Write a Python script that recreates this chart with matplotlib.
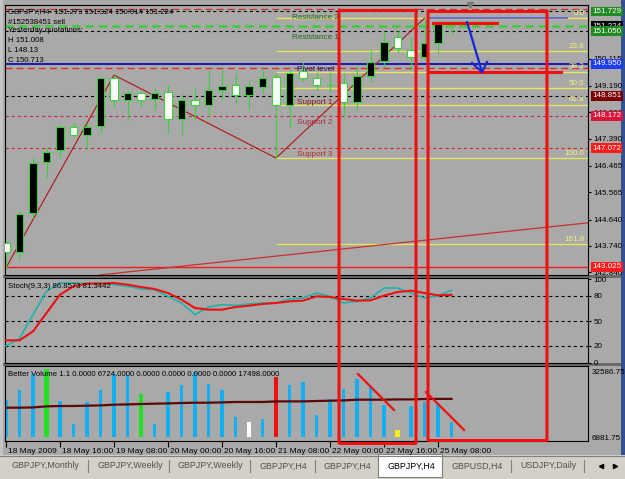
import numpy as np
import matplotlib
matplotlib.use('Agg')
import matplotlib.pyplot as plt
from matplotlib.patches import Rectangle, ConnectionPatch
from matplotlib.transforms import ScaledTranslation, blended_transform_factory

plt.rcParams['font.family'] = ['Liberation Sans', 'DejaVu Sans']
plt.rcParams['lines.scale_dashes'] = False

# ========== 数据 ==========
opens = [143.842, 143.536, 144.854, 146.611, 147.010, 147.804, 147.521, 147.838, 149.452, 148.713,
         148.941, 148.737, 148.975, 148.066, 148.713, 148.543, 149.053, 149.224, 148.883, 149.166,
         149.486, 148.543, 149.711, 149.452, 149.214, 149.282, 148.655, 149.530, 150.052, 150.848,
         150.416, 150.188, 150.644, 151.273]
highs = [143.940, 144.932, 146.782, 147.112, 147.861, 147.930, 147.920, 149.506, 149.565, 149.030,
         149.030, 149.122, 149.224, 148.941, 149.112, 149.735, 149.793, 149.622, 149.394, 149.793,
         149.622, 149.735, 150.017, 149.677, 149.622, 149.622, 149.905, 150.416, 151.039, 151.097,
         150.869, 151.500, 151.438, 151.324]
lows = [143.000, 143.263, 144.694, 146.056, 146.782, 147.453, 147.034, 147.589, 148.485, 148.032,
        148.485, 148.372, 147.579, 147.521, 148.032, 148.144, 148.713, 148.601, 148.372, 148.941,
        146.737, 147.804, 149.336, 149.053, 148.996, 148.144, 148.372, 149.336, 149.847, 150.303,
        149.735, 150.075, 150.303, 150.914]
closes = [143.536, 144.830, 146.577, 146.952, 147.783, 147.521, 147.804, 149.452, 148.713, 148.941,
          148.713, 148.962, 148.066, 148.713, 148.543, 149.053, 149.190, 148.883, 149.190, 149.452,
          148.543, 149.643, 149.462, 149.224, 149.234, 148.655, 149.530, 150.017, 150.699, 150.474,
          150.188, 150.644, 151.302, 151.224]
bars = np.arange(len(opens))

stoch_k = [20, 29, 57.6, 85.6, 95.6, 95.6, 94.8, 95.6, 93.6, 91.6, 88.4, 87.6, 79.6, 71.6, 57.6,
           66.8, 69.6, 68.8, 70.4, 71.6, 71.6, 76.4, 77.6, 83.6, 79.6, 71.6, 73.6, 77.6, 89.6, 89.6,
           83.6, 77.6, 80.4, 86.86]
stoch_d = [26.8, 26.8, 37.6, 59.6, 81.6, 91.6, 94.8, 94.8, 95.6, 93.6, 90.8, 88.4, 83.6, 75.6, 65.6,
           63.6, 63.6, 66.8, 68.4, 70.4, 71.6, 73.6, 74.4, 79.6, 78.8, 76.4, 74.4, 74.8, 80.4, 84.8,
           86.4, 83.6, 80.8, 81.34]
stoch_levels = [20, 50, 80]
stoch_ticks = [100, 80, 50, 20, 0]

volumes = [16840, 21570, 28920, 31000, 16520, 5970, 16070, 21570, 28920, 28460,
           19740, 5970, 20650, 23870, 29840, 24330, 21570, 9180, 6890, 8260,
           27540, 23870, 25250, 10100, 17440, 22030, 26620, 22950, 14690, 3210,
           14230, 16070, 15150, 6724]
vol_ma = [13450, 13450, 13590, 14050, 14230, 14230, 14370, 14500, 14830, 14960,
          15150, 15280, 15420, 15610, 15740, 15740, 15880, 16070, 16070, 16070,
          16340, 16340, 16340, 16520, 16660, 16800, 17120, 17120, 17120, 17260,
          17260, 17440, 17498, 17498]
vol_kind = ['n', 'n', 'n', 'g', 'n', 'n', 'n', 'n', 'n', 'n',
            'g', 'n', 'n', 'n', 'n', 'n', 'n', 'n', 'w', 'n',
            'r', 'n', 'n', 'n', 'n', 'n', 'n', 'n', 'n', 'y',
            'n', 'n', 'n', 'n']

date_bars = [0, 4, 8, 12, 16, 20, 24, 28, 32]
date_labels = ['18 May 2009', '18 May 16:00', '19 May 08:00', '20 May 00:00', '20 May 16:00',
               '21 May 08:00', '22 May 00:00', '22 May 16:00', '25 May 08:00']

price_ticks = [150.115, 149.190, 148.290, 147.390, 146.465, 145.565, 144.640, 143.740, 142.840]

pivot_names = ['Resistance 2', 'Resistance 1', 'Pivot level', 'Support 1', 'Support 2', 'Support 3']
pivot_prices = [151.729, 151.050, 149.950, 148.851, 148.172, 147.072]
pivot_line_col = ['black', 'black', '#0000b4', 'black', '#c8264a', '#d82020']
pivot_text_col = ['#1f6a1f', '#1f6a1f', '#12127e', '#8b1a1a', '#b4283c', '#c42828']
pivot_box_col = ['#1f8a1f', '#1f8a1f', '#1e3cff', '#7b0000', '#dc143c', '#ff1a1a']

red_dash_prices = [151.812, 149.803]
order_price = 151.224
bid_price = 151.224
low_line_price = 143.025

fib_labels = ['0.0', '23.6', '38.2', '50.0', '61.8', '100.0', '161.8']
fib_prices = [151.500, 150.376, 149.681, 149.119, 148.557, 146.737, 143.794]
fib_start = 20

zigzag_bars = [0, 8, 20, 31]
zigzag_prices = [143.000, 149.565, 146.737, 151.500]
trend_a = (20.3, 143.41)
trend_b = (43.1, 144.53)
swing_line = ([31.2, 41.6], 151.500)

# 手绘标注 (bar, price / volume)
rects = [(24.67, 30.37, 151.78, -2750), (31.26, 40.07, 151.76, -1380)]
red_hlines = [(31.63, 36.37, 151.335), (31.26, 41.11, 149.667)]
arrow_shaft = ([34.15, 35.26], [151.37, 149.667])
arrow_head = ([34.52, 35.26, 35.63], [149.973, 149.667, 150.007])
vol_slashes = [([26.07, 28.74], [28900, 12400]), ([31.11, 33.93], [20650, 3210])]

tab_labels = ['GBPJPY,Monthly', 'GBPJPY,Weekly', 'GBPJPY,Weekly', 'GBPJPY,H4', 'GBPJPY,H4',
              'GBPJPY,H4', 'GBPUSD,H4', 'USDJPY,Daily']
active_tab = 5

# ========== 画布 ==========
W, H = 625, 479
BG = '#a9a9a9'
WICK = '#3ad23a'
fig = plt.figure(figsize=(W / 100, H / 100), dpi=100, facecolor=BG)


def box(x0, y0, x1, y1):
    return [x0 / W, 1 - y1 / H, (x1 - x0) / W, (y1 - y0) / H]


ov = fig.add_axes([0, 0, 1, 1], zorder=-1)
ov.set_xlim(0, W); ov.set_ylim(H, 0); ov.axis('off')

ax = fig.add_axes(box(5, 5, 588, 275))
ax_s = fig.add_axes(box(5, 278, 588, 363), sharex=ax)
ax_v = fig.add_axes(box(5, 366, 588, 441), sharex=ax)
X0, X1 = -0.074, 43.11
for a in (ax, ax_s, ax_v):
    a.set_facecolor(BG)
    for s in a.spines.values():
        s.set_color('black'); s.set_linewidth(0.8)
    a.yaxis.tick_right()
    a.tick_params(axis='y', labelsize=5.8, length=2, pad=2, colors='black')
    a.tick_params(axis='x', bottom=False, labelbottom=False)
ax.set_xlim(X0, X1)

# ---- 主图 ----
ax.set_ylim(142.752, 151.949)
ax.set_yticks(price_ticks)
ax.set_yticklabels([f'{p:.3f}' for p in price_ticks])

for p in red_dash_prices:
    ax.axhline(p, color='#e02828', lw=0.9, ls=(0, (5, 3)), zorder=1)
ax.axhline(order_price, color='#3ccc3c', lw=1.8, ls=(0, (6, 3.6)), zorder=1)
for p, lc in zip(pivot_prices, pivot_line_col):
    if lc == '#0000b4':
        ax.axhline(p, color=lc, lw=1.2, zorder=1)
    else:
        ax.axhline(p, color=lc, lw=0.8, ls=(0, (2.2, 2.2)), zorder=1)
ax.axhline(low_line_price, color='#ee1c1c', lw=1.0, zorder=1)

for lab, p in zip(fib_labels, fib_prices):
    ax.hlines(p, fib_start, X1, color='#e6e65e', lw=1.0, zorder=1)
    ax.annotate(lab, (42.85, p), xytext=(0, 3.6), textcoords='offset points',
                ha='right', va='center', fontsize=5.8, color='#f2f27a', zorder=2)
ax.hlines(swing_line[1], swing_line[0][0], swing_line[0][1], color='#5a5ae0', lw=1.2, zorder=2)

ax.plot(zigzag_bars, zigzag_prices, color='#b01414', lw=0.8, zorder=2)
ax.axline(trend_a, trend_b, color='#c83030', lw=0.9, zorder=2)

for name, p, tc in zip(pivot_names, pivot_prices, pivot_text_col):
    ax.annotate(name, (22.9, p), xytext=(0, -4.5), textcoords='offset points',
                ha='center', va='center', fontsize=5.9, color=tc, zorder=5)

for i in bars:
    o, c = opens[i], closes[i]
    ax.vlines(i, lows[i], highs[i], color=WICK, lw=0.8, zorder=3)
    fc = 'black' if c >= o else 'white'
    ax.add_patch(Rectangle((i - 0.28, min(o, c)), 0.56, max(abs(c - o), 0.015),
                           fc=fc, ec=WICK, lw=0.8, zorder=4))

# 价格标签框
bt = blended_transform_factory(ax.transAxes, ax.transData)
boxes = [(bid_price, 'black')] + list(zip(pivot_prices, pivot_box_col)) + [(low_line_price, '#ff1a1a')]
for p, col in boxes:
    ax.text(1.007, p, f'{p:.3f}', transform=bt, fontsize=5.8, color='white', ha='left', va='center',
            bbox=dict(boxstyle='square,pad=0.18', fc=col, ec='none'), clip_on=False, zorder=6)
ax.plot([34.4], [1.0], marker='v', ms=4, color='#7a7a7a',
        transform=blended_transform_factory(ax.transData, ax.transAxes), clip_on=False, zorder=6)

# ---- Stoch ----
ax_s.set_ylim(-0.4, 101.6)
ax_s.set_yticks(stoch_ticks)
for lv in stoch_levels:
    ax_s.axhline(lv, color='black', lw=0.8, ls=(0, (2.2, 2.2)), zorder=1)
ax_s.plot(bars, stoch_k, color='#20b2aa', lw=1.2, zorder=3)
ax_s.plot(bars, stoch_d, color='#ee1010', lw=1.5, zorder=4)

# ---- Volume ----
ax_v.set_ylim(-1840, 32590)
ax_v.set_yticks([])
cmap = {'n': '#12b0f2', 'g': '#22e022', 'w': 'white', 'r': '#ee1010', 'y': '#f0f020'}
wmap = {'n': 0.24, 'g': 0.32, 'w': 0.3, 'r': 0.36, 'y': 0.3}
ax_v.bar(bars, volumes, width=[wmap[k] for k in vol_kind], color=[cmap[k] for k in vol_kind], zorder=2)
ax_v.plot(bars, vol_ma, color='#5a0808', lw=1.6, zorder=3)
ax_v.text(1.007, 0.92, '32586.75', transform=ax_v.transAxes, fontsize=5.8, va='center', clip_on=False)
ax_v.text(1.007, 0.03, '6881.75', transform=ax_v.transAxes, fontsize=5.8, va='center', clip_on=False)
for xs, ys in vol_slashes:
    ax_v.plot(xs, ys, color='#ee1010', lw=1.6, zorder=5, clip_on=False)

ax_v.tick_params(axis='x', bottom=True, labelbottom=True, length=4, pad=1, labelsize=6.0, direction='out')
ax_v.set_xticks(date_bars)
ax_v.set_xticklabels(date_labels, ha='left')
for t in ax_v.get_xticklabels():
    t.set_transform(t.get_transform() + ScaledTranslation(1.5 / 72, 0, fig.dpi_scale_trans))

# ---- 手绘标注 ----
RED = '#f01010'
for x0, x1, top, bot in rects:
    ax.plot([x0, x1], [top, top], color=RED, lw=2.2, clip_on=False, zorder=7, solid_capstyle='butt')
    ax_v.plot([x0, x1], [bot, bot], color=RED, lw=2.2, clip_on=False, zorder=7, solid_capstyle='butt')
    for x in (x0, x1):
        cp = ConnectionPatch((x, top), (x, bot), coordsA=ax.transData, coordsB=ax_v.transData,
                             color=RED, lw=2.2)
        fig.add_artist(cp)
for x0, x1, p in red_hlines:
    ax.plot([x0, x1], [p, p], color=RED, lw=2.2, zorder=7, clip_on=False)
ax.plot(*arrow_shaft, color='#1428d2', lw=1.6, zorder=8)
ax.plot(*arrow_head, color='#1428d2', lw=1.6, zorder=8)

# ---- 文本 ----
info = ['GBPJPY,H4- 151.273 151.324 150.914 151.224', '#152538451 sell', 'Yesterday quotations:',
        'H 151.008', 'L 148.13', 'C 150.713']
info_y = [12, 22, 31, 41, 50, 60]
for s, y in zip(info, info_y):
    fig.text(8 / W, 1 - y / H, s, fontsize=5.6, va='center', color='black')
fig.text(8 / W, 1 - 287 / H, 'Stoch(9,3,3) 86.8573 81.3442', fontsize=5.6, va='center')
fig.text(8 / W, 1 - 374 / H,
         'Better Volume 1.1 0.0000 6724.0000 0.0000 0.0000 0.0000 0.0000 17498.0000',
         fontsize=5.6, va='center')

# ---- 边框 / 分隔 / 标签页 ----
ov.add_patch(Rectangle((0, 0), 3, 455, fc='#c4c4c4', ec='none'))
ov.add_patch(Rectangle((621, 0), 4, 455, fc='#34508e', ec='none'))
ov.add_patch(Rectangle((3, 275), 618, 3, fc='#6a6a6a', ec='none'))
ov.add_patch(Rectangle((3, 363), 618, 3, fc='#6a6a6a', ec='none'))
ov.add_patch(Rectangle((0, 455), W, 24, fc='#d4d0c8', ec='none'))
ov.plot([0, W], [455.5, 455.5], color='#808080', lw=0.8)
tab_x = [12, 97, 178, 260, 323, 388, 452, 520]
sep_x = [88, 169, 250, 315, 511, 584]
ov.add_patch(Rectangle((378, 454), 64, 23, fc='white', ec='#808080', lw=0.8))
for s, x, k in zip(tab_labels, tab_x, range(len(tab_labels))):
    ov.text(x, 466, s, fontsize=6.4, va='center', ha='left',
            color='black' if k == active_tab else '#505050')
for x in sep_x:
    ov.plot([x, x], [460, 472], color='#808080', lw=0.8)
ov.plot([601], [466], marker='<', ms=3, color='black')
ov.plot([615], [466], marker='>', ms=3, color='black')

fig.savefig('out.png', dpi=100, facecolor=BG)
